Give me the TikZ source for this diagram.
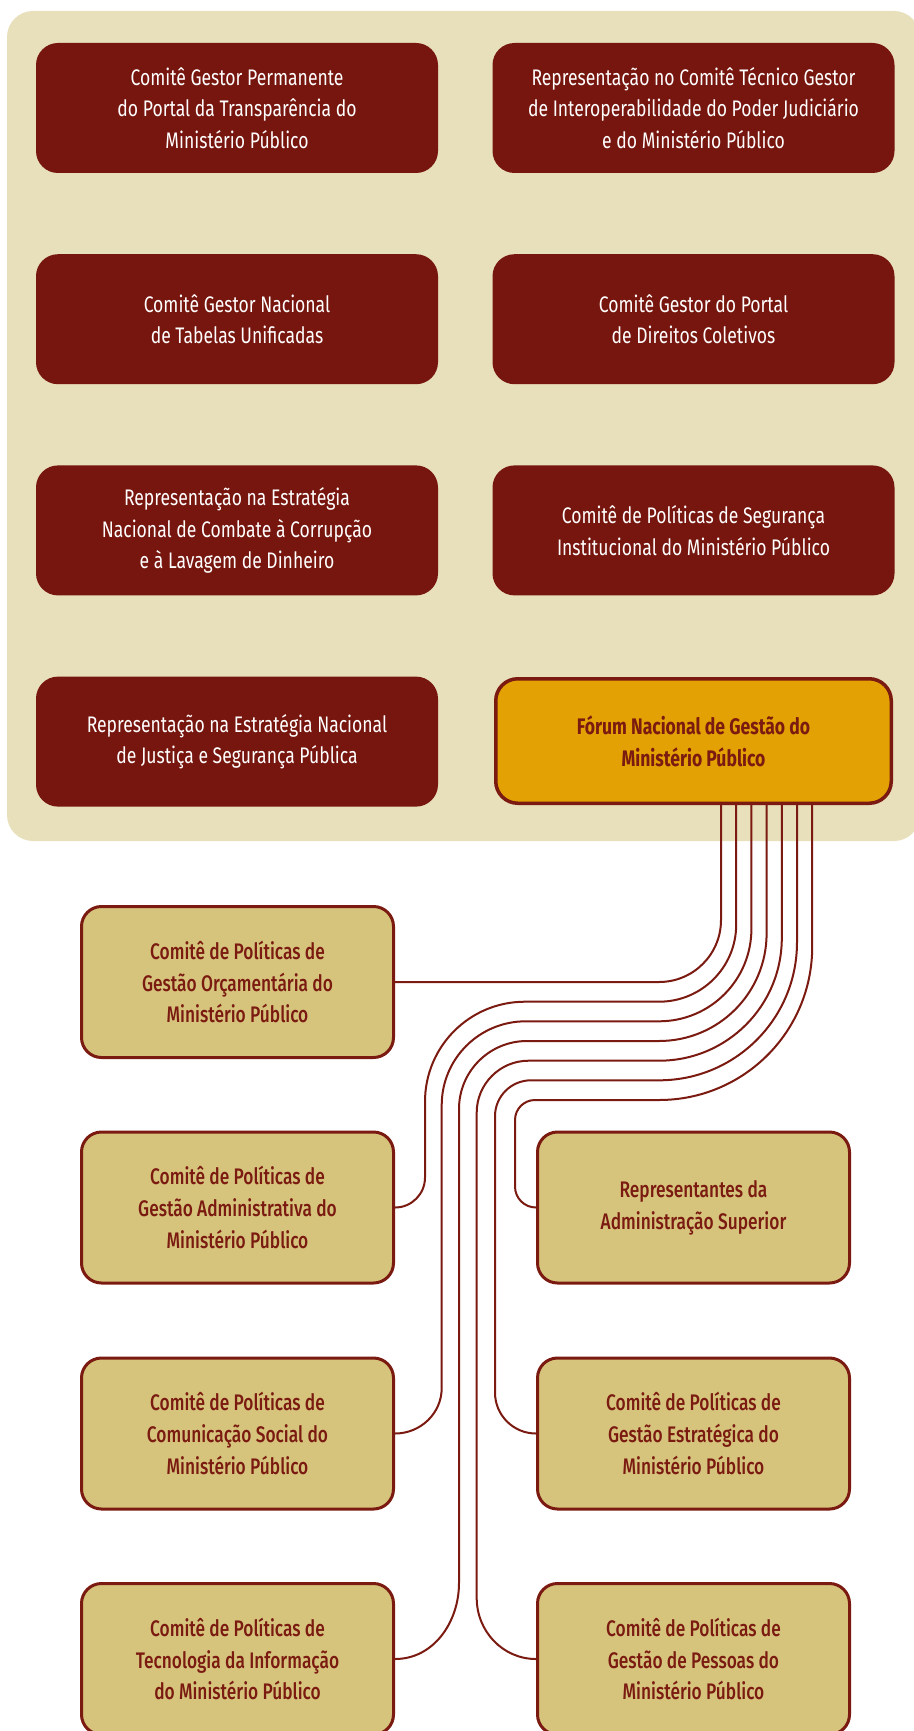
\documentclass[tikz,border=0pt]{standalone}
\usepackage{fontspec}
\newfontfamily\boxfont{Fira Sans}[FakeStretch=0.78]
\IfFontExistsTF{Fira Sans Medium}
  {\newfontfamily\subfont{Fira Sans Medium}[FakeStretch=0.77]}
  {\newfontfamily\subfont{Fira Sans}[FakeStretch=0.78]}
\definecolor{mpdark}{HTML}{76160E}
\definecolor{mpline}{HTML}{7A1A10}
\definecolor{mpsand}{HTML}{E8DFBB}
\definecolor{mpgold}{HTML}{D6C47C}
\definecolor{mporange}{HTML}{E3A103}
\tikzset{
  topbox/.style={rectangle, rounded corners=22pt, fill=mpdark, text=white,
    minimum width=402pt, minimum height=130pt, align=center,
    font=\boxfont\fontsize{22.5}{31.7}\selectfont},
  forumbox/.style={topbox, fill=mporange, draw=mpline, line width=3.5pt,
    text=mpline, minimum width=395.5pt, minimum height=124.5pt,
    font=\boxfont\bfseries\fontsize{22.5}{32.3}\selectfont},
  subbox/.style={rectangle, rounded corners=20pt, fill=mpgold, draw=mpline,
    line width=3pt, text=mpline, minimum width=312pt, minimum height=151pt,
    align=center, font=\subfont\fontsize{22.5}{31.7}\selectfont},
  wire/.style={draw=mpline, line width=2pt},
}
\begin{document}
\begin{tikzpicture}[x=1pt, y=1pt]
    \useasboundingbox (0,0) rectangle (913,-1731);
    \fill[mpsand, rounded corners=26pt] (7,-11) rectangle (920,-841);

    \node[topbox] (transp) at (237,-108) {Comitê Gestor Permanente\\do Portal da Transparência do\\Ministério Público};
    \node[topbox] (interop) at (693.5,-108) {Representação no Comitê Técnico Gestor\\de Interoperabilidade do Poder Judiciário\\e do Ministério Público};
    \node[topbox] (tabelas) at (237,-319.2) {Comitê Gestor Nacional\\de Tabelas Unificadas};
    \node[topbox] (coletivos) at (693.5,-319.2) {Comitê Gestor do Portal\\de Direitos Coletivos};
    \node[topbox] (corrupcao) at (237,-530.4) {Representação na Estratégia\\Nacional de Combate à Corrupção\\e à Lavagem de Dinheiro};
    \node[topbox] (seguranca) at (693.5,-530.4) {Comitê de Políticas de Segurança\\Institucional do Ministério Público};
    \node[topbox] (justica) at (237,-741.6) {Representação na Estratégia Nacional\\de Justiça e Segurança Pública};
    \node[forumbox] (forum) at (693.5,-741) {Fórum Nacional de Gestão do\\Ministério Público};

    \node[subbox] (orcam) at (237.5,-982) {Comitê de Políticas de\\Gestão Orçamentária do\\Ministério Público};
    \node[subbox] (admin) at (237.5,-1207.5) {Comitê de Políticas de\\Gestão Administrativa do\\Ministério Público};
    \node[subbox] (comunic) at (237.5,-1433.5) {Comitê de Políticas de\\Comunicação Social do\\Ministério Público};
    \node[subbox] (tecnol) at (237.5,-1659) {Comitê de Políticas de\\Tecnologia da Informação\\do Ministério Público};
    \node[subbox] (repres) at (693.5,-1207.5) {Representantes da\\Administração Superior};
    \node[subbox] (estrat) at (693.5,-1433.5) {Comitê de Políticas de\\Gestão Estratégica do\\Ministério Público};
    \node[subbox] (pessoas) at (693.5,-1659) {Comitê de Políticas de\\Gestão de Pessoas do\\Ministério Público};

    \draw[wire] ([xshift=27.5pt]forum.south) -- (721,-920) to[out=-90,in=0] (659,-982) -- (orcam.east);
    \draw[wire] ([xshift=42.7pt]forum.south) -- (736.2,-924.5) to[out=-90,in=0] (659,-1001.7)
      -- (525,-1001.7) to[out=180,in=90] (425,-1101.7) -- (425,-1177.5) to[out=-90,in=0] (admin.east);
    \draw[wire] ([xshift=57.9pt]forum.south) -- (751.4,-928.9) to[out=-90,in=0] (659,-1021.3)
      -- (525.7,-1021.3) to[out=180,in=90] (441.7,-1105.3) -- (441.7,-1388) to[out=-90,in=0] (comunic.east);
    \draw[wire] ([xshift=73.1pt]forum.south) -- (766.6,-933.4) to[out=-90,in=0] (659,-1041)
      -- (527,-1041) to[out=180,in=90] (459,-1109) -- (459,-1583) to[out=-90,in=0] (tecnol.east);
    \draw[wire] ([xshift=88.3pt]forum.south) -- (781.8,-937.9) to[out=-90,in=0] (659,-1060.7)
      -- (528.7,-1060.7) to[out=180,in=90] (476.7,-1112.7) -- (476.7,-1598) to[out=-90,in=180] (pessoas.west);
    \draw[wire] ([xshift=103.5pt]forum.south) -- (797,-942.3) to[out=-90,in=0] (659,-1080.3)
      -- (531,-1080.3) to[out=180,in=90] (495,-1116.3) -- (495,-1392.5) to[out=-90,in=180] (estrat.west);
    \draw[wire] ([xshift=118.7pt]forum.south) -- (812.2,-946.8) to[out=-90,in=0] (659,-1100)
      -- (535,-1100) to[out=180,in=90] (515,-1120) -- (515,-1186.5) to[out=-90,in=180] (repres.west);
\end{tikzpicture}
\end{document}
